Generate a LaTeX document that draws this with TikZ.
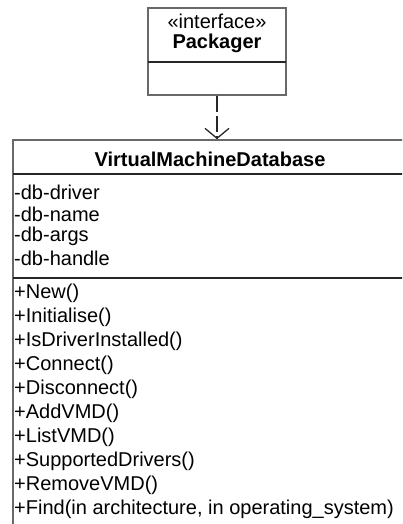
\documentclass[tikz,border=0pt]{standalone}
\usepackage{fontspec}
\setmainfont{Liberation Sans}
\usetikzlibrary{arrows.meta}
\definecolor{umlframe}{RGB}{105,105,105}
\tikzset{
  uml-box/.style={
    draw=umlframe,
    line width=1.6pt,
    fill=white,
    inner sep=0pt
  },
  uml-sep/.style={draw=black!85, line width=1.3pt},
  uml-text/.style={font=\fontsize{20}{23}\selectfont, inner sep=0pt},
  uml-title/.style={font=\fontsize{20}{23}\selectfont\bfseries, inner sep=0pt},
  uml-item/.style={uml-text, anchor=west},
  realise/.style={
    draw=black!85,
    line width=1.3pt,
    dash pattern=on 16pt off 4pt,
    -{Straight Barb[length=10pt,width=24pt,line width=1.3pt]}
  }
}

\begin{document}
\begin{tikzpicture}[x=1pt,y=-1pt]
  \useasboundingbox (0,0) rectangle (402,524);
  \clip (0,0) rectangle (402,524);
  % Interface Packager
  \node[uml-box, minimum width=138pt, minimum height=87pt] (Packager) at (217,51.5) {};
  \draw[uml-sep] (148,62) -- (286,62);
  \node[uml-text] (PackagerStereo) at (217,21) {«interface»};
  \node[uml-title] (PackagerName) at (217,43) {Packager};
  % Class VirtualMachineDatabase
  \node[uml-box, minimum width=394pt, minimum height=400pt] (VMDB) at (210,340) {};
  \draw[uml-sep] (13,174) -- (407,174);
  \draw[uml-sep] (13,278) -- (407,278);
  \node[uml-title] (VMDBName) at (210,159) {VirtualMachineDatabase};
  % Attributes
  \node[uml-item] (AttrDriver) at (14,192) {-db-driver};
  \node[uml-item] (AttrName) at (14,214) {-db-name};
  \node[uml-item] (AttrArgs) at (14,236) {-db-args};
  \node[uml-item] (AttrHandle) at (14,258) {-db-handle};
  % Operations
  \node[uml-item] (OpNew) at (14,293) {+New()};
  \node[uml-item] (OpInit) at (14,317) {+Initialise()};
  \node[uml-item] (OpIsDriver) at (14,341) {+IsDriverInstalled()};
  \node[uml-item] (OpConnect) at (14,365) {+Connect()};
  \node[uml-item] (OpDisconnect) at (14,389) {+Disconnect()};
  \node[uml-item] (OpAdd) at (14,413) {+AddVMD()};
  \node[uml-item] (OpList) at (14,437) {+ListVMD()};
  \node[uml-item] (OpDrivers) at (14,461) {+SupportedDrivers()};
  \node[uml-item] (OpRemove) at (14,485) {+RemoveVMD()};
  \node[uml-item] (OpFind) at (14,509) {+Find(in architecture, in operating\_system)};
  % Realisation
  \draw[realise] (Packager.south) -- (Packager.south |- VMDB.north);
\end{tikzpicture}
\end{document}
